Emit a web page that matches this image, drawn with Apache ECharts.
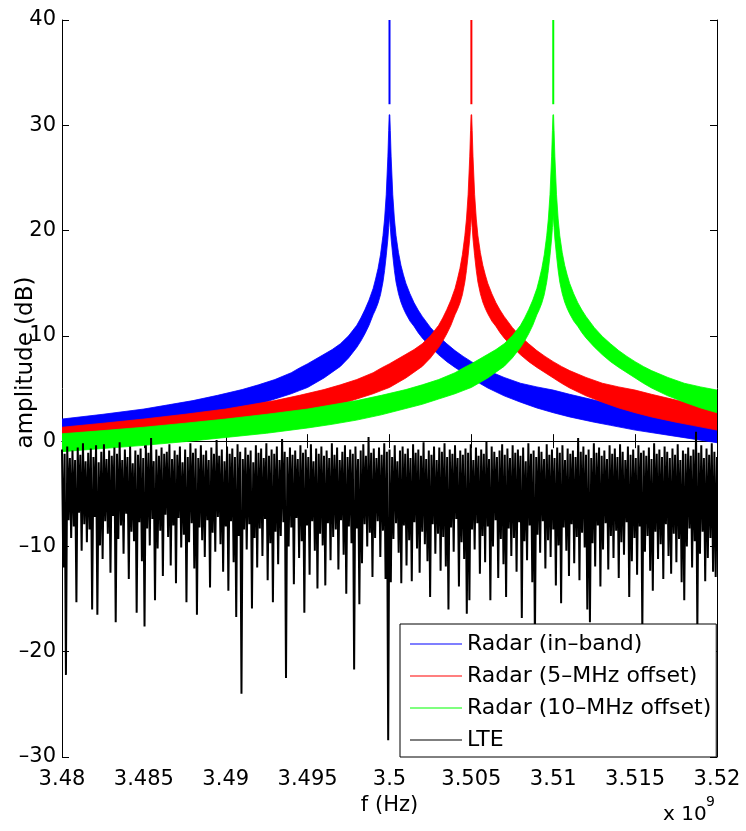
<!DOCTYPE html>
<html>
<head>
<meta charset="utf-8">
<script src="https://cdn.jsdelivr.net/npm/echarts@6/dist/echarts.min.js"></script>
<style>
html,body{margin:0;padding:0;background:#fff;}
#chart{width:746px;height:831px;}
</style>
</head>
<body>
<div id="chart"></div>
<script>
// ---- data ----
const xMinMHz = 3480, xMaxMHz = 3520, xStepMHz = 5;
const yMinDb = -30, yMaxDb = 40, yStepDb = 10;

const radarNames = ['Radar (in\u2013band)', 'Radar (5\u2013MHz offset)', 'Radar (10\u2013MHz offset)'];
const radarCentersMHz = [3500, 3505, 3510];
const radarColors = ['#0000ff', '#ff0000', '#00ff00'];

// envelope of each radar band, as offset from its centre frequency
const radarOffsetMHz = [-30,-27.5,-25,-22.5,-20,-17.5,-15,-13.5,-12,-10.5,-9,-8,-7,-6,-5.5,-5,-4.5,-4,-3.5,-3,-2.5,-2,-1.75,-1.5,-1.25,-1,-0.85,-0.7,-0.55,-0.4,-0.3,-0.2,-0.1,-0.05,-0.02,
  0,
  0.02,0.05,0.1,0.2,0.3,0.4,0.55,0.7,0.85,1,1.25,1.5,1.75,2,2.5,3,3.5,4,4.5,5,5.5,6,7,8,9,10,11,12.5,13.5,15,17.5,20];
const radarUpperDb = [0.7,1.0,1.32,1.7,2.1,2.55,3.05,3.45,3.85,4.35,4.9,5.35,5.85,6.5,6.95,7.35,7.8,8.25,8.7,9.25,10.0,11.0,11.7,12.5,13.4,14.5,15.4,16.4,17.7,19.5,21.1,23.4,27,29.5,31,
  31,
  31,29.5,27,23.4,21.1,19.5,17.9,16.7,15.8,15.0,14.0,13.15,12.45,11.85,10.8,9.95,9.25,8.6,8.05,7.55,7.1,6.7,6.05,5.5,5.15,4.85,4.45,3.9,3.55,3.05,2.25,1.55];
const radarLowerDb = [-1.0,-0.7,-0.4,-0.05,0.35,0.75,1.25,1.6,2.0,2.5,3.1,3.5,4.0,4.5,4.8,5.1,5.55,6.0,6.55,7.1,7.9,8.9,9.5,10.2,11.0,12.0,12.5,13.1,13.9,15.1,16.2,17.6,19.2,20.3,21,
  21.5,
  21,20.3,19.2,17.6,16.2,15.1,14.0,13.2,12.6,12.1,11.4,10.9,10.3,9.8,8.95,8.2,7.55,7.0,6.5,6.0,5.5,5.05,4.3,3.7,3.15,2.7,2.3,1.8,1.5,1.05,0.45,-0.15];
const radarSpikeDb = [32, 41];

const lteName = 'LTE';
const lteStartMHz = 3480, lteStepMHz = 0.08;
const lteDb = [
-0.8,-12,-1.2,-22.2,-0.5,-7.5,-1.6,-9.2,-0.9,-8.1,-1.8,-15.3,-0.6,-6.8,-1.3,-10.4,-0.2,-7.9,-1.9,-9.6,
-1.1,-8.4,-0.7,-16,-1.5,-7.2,-0.4,-16.5,-2.0,-9.9,-1.0,-11.2,-0.3,-7.6,-1.7,-8.8,-0.9,-12.5,-1.4,-7.1,
-0.6,-17.2,-1.2,-9.3,-0.1,-8.0,-1.8,-10.7,-0.8,-6.9,-1.5,-13.1,-0.5,-8.6,-2.1,-9.5,-0.9,-16.3,-1.3,-7.7,
-0.7,-11.4,-1.6,-17.6,-0.4,-8.3,-1.1,-9.9,0.3,-7.4,-1.9,-15.1,-0.8,-10.2,-1.4,-8.5,-0.6,-12.8,-1.2,-7.0,
-1.0,-9.1,-0.3,-11.8,-1.7,-8.0,-0.9,-13.5,-1.3,-7.3,-0.5,-10.1,-2.0,-8.9,-0.8,-15.3,-1.5,-9.6,-0.2,-7.8,
-1.1,-12.1,-0.7,-16.5,-1.6,-8.2,-0.4,-9.4,-1.3,-11.0,-0.9,-7.5,-1.8,-13.9,-0.6,-8.7,-1.2,-10.5,0.1,-7.2,
-1.4,-9.8,-0.8,-12.4,-1.9,-8.1,-0.5,-14.2,-1.2,-7.6,-0.7,-11.5,-1.5,-16.7,-0.3,-9.0,-1.0,-24.0,-1.7,-8.4,
-0.6,-10.3,-1.3,-7.9,-0.9,-15.9,-2.0,-9.2,-0.4,-12.0,-1.1,-8.3,-0.7,-10.9,-1.6,-7.4,-0.2,-13.2,-1.4,-9.7,
-0.8,-15.3,-1.2,-8.6,-0.5,-11.7,-1.8,-9.0,0.2,-7.7,-1.0,-22.5,-1.5,-10.0,-0.6,-8.2,-1.3,-13.6,-0.9,-7.3,
-1.7,-11.1,-0.4,-9.5,-1.1,-16.3,-0.8,-8.0,-1.5,-12.7,-0.3,-7.6,-1.9,-10.4,-0.7,-14.0,-1.2,-8.8,-0.5,-9.9,
-1.4,-13.7,-0.9,-7.8,-1.6,-11.3,-0.2,-9.1,-1.3,-8.4,-0.6,-12.2,-1.8,-7.5,-1.0,-10.8,-0.4,-14.5,-1.5,-8.1,
-0.8,-9.7,-1.2,-21.7,-0.5,-8.3,-1.7,-15.5,-0.9,-11.6,-0.3,-7.9,-1.4,-10.0,0.4,-8.7,-1.1,-12.9,-0.7,-9.2,
-1.6,-7.6,-0.6,-11.0,-1.3,-8.5,-0.2,-13.1,-1.0,-28.4,-0.8,-13.4,-1.5,-9.3,-0.4,-7.8,-1.9,-10.6,-0.9,-13.5,
-0.5,-8.0,-1.2,-11.8,-0.7,-9.4,-1.6,-13.3,-0.3,-7.7,-1.1,-10.2,-0.8,-12.5,-1.4,-8.6,-0.1,-9.8,-1.7,-11.4,
-0.9,-14.8,-1.3,-7.9,-0.5,-10.7,-1.8,-8.8,-0.6,-12.3,-1.0,-9.1,-0.2,-11.9,-1.5,-16.0,-0.8,-8.2,-1.2,-10.5,
-0.4,-7.4,-1.6,-13.8,-0.9,-9.6,-1.3,-11.2,-0.7,-16.4,-1.1,-15.1,-0.3,-8.4,-1.8,-10.3,-0.6,-7.8,-1.4,-12.6,
-0.8,-9.0,-1.2,-11.5,0.0,-8.1,-1.7,-15.1,-0.5,-10.0,-1.0,-7.5,-1.5,-13.0,-0.9,-9.3,-0.3,-11.7,-1.3,-14.8,
-0.7,-8.3,-1.6,-10.9,-0.4,-9.2,-1.1,-12.4,-0.8,-7.7,-1.4,-16.8,-0.6,-9.5,-1.9,-11.3,-0.2,-8.0,-1.2,-13.4,
-0.9,-19.0,-1.5,-8.9,-0.5,-10.6,-1.0,-7.6,-1.7,-12.1,-0.3,-9.4,-1.3,-11.0,-0.8,-8.4,-1.6,-13.7,-0.6,-9.9,
-1.1,-15.4,-0.4,-8.2,-1.8,-10.4,-0.7,-12.8,-1.2,-7.9,-0.9,-11.6,-1.5,-9.1,0.3,-13.2,-1.0,-8.7,-0.5,-10.1,
-1.3,-16.0,-0.8,-17.2,-1.6,-9.7,-0.2,-11.9,-1.1,-8.0,-0.6,-13.8,-1.4,-10.3,-0.9,-7.8,-1.7,-12.2,-0.4,-9.0,
-1.2,-11.1,-0.7,-8.5,-1.5,-13.0,-0.3,-9.6,-1.0,-10.8,-1.8,-7.7,-0.5,-14.8,-1.3,-11.4,-0.8,-9.2,-1.6,-12.7,
-0.4,-8.1,-1.1,-18.0,-0.9,-10.5,-1.4,-9.0,-0.6,-12.3,-1.7,-14.2,-0.2,-8.6,-1.2,-11.2,-0.8,-9.8,-1.5,-13.1,
-0.5,-7.9,-1.0,-10.9,-1.6,-12.6,-0.7,-8.8,-1.3,-11.5,-0.3,-9.3,-1.8,-13.4,-0.9,-15.1,-1.2,-10.0,-0.6,-8.3,
-1.4,-12.0,-0.8,-9.5,0.9,-18.0,-1.1,-10.7,-0.4,-8.6,-1.6,-13.3,-0.7,-11.1,-1.3,-9.2,-0.2,-12.4,-1.0,-12.9,
-1.5
];

// ---- chart ----
const FONT = 'DejaVu Sans';
const chart = echarts.init(document.getElementById('chart'), null, {renderer: 'canvas'});

function fmtX(v) { return String(+(v / 1000).toFixed(3)); }
function fmtY(v) { return v < 0 ? '\u2013' + Math.abs(v) : String(v); }

function radarRender(k) {
  return function (params, api) {
    const c = radarCentersMHz[k];
    const top = radarOffsetMHz.map((d, i) => api.coord([c + d, radarUpperDb[i]]));
    const bot = radarOffsetMHz.map((d, i) => api.coord([c + d, radarLowerDb[i]])).reverse();
    const p0 = api.coord([c, radarSpikeDb[0]]);
    const p1 = api.coord([c, radarSpikeDb[1]]);
    return {
      type: 'group',
      children: [
        {type: 'polygon', shape: {points: top.concat(bot)},
         style: {fill: radarColors[k], stroke: radarColors[k], lineWidth: 0.8}},
        {type: 'line', shape: {x1: p0[0], y1: p0[1], x2: p1[0], y2: p1[1]},
         style: {stroke: radarColors[k], lineWidth: 2}}
      ]
    };
  };
}

const series = radarNames.map((name, k) => ({
  name: name,
  type: 'custom',
  clip: true,
  renderItem: radarRender(k),
  data: [[radarCentersMHz[k], 0]],
  itemStyle: {color: radarColors[k]},
  silent: true
}));
series.push({
  name: lteName,
  type: 'line',
  data: lteDb.map((v, i) => [lteStartMHz + i * lteStepMHz, v]),
  showSymbol: false,
  symbol: 'none',
  clip: true,
  sampling: null,
  lineStyle: {color: '#000', width: 2},
  itemStyle: {color: '#000'},
  silent: true
});

const axisLineStyle = {show: true, lineStyle: {color: '#000', width: 1}};
const tickStyle = {show: true, inside: true, length: 7, lineStyle: {color: '#000', width: 1}};

chart.setOption({
  animation: false,
  backgroundColor: '#fff',
  grid: {left: 62, right: 29, top: 20, bottom: 74, containLabel: false, outerBoundsMode: 'none'},
  xAxis: [
    {type: 'value', min: xMinMHz, max: xMaxMHz, interval: xStepMHz, position: 'bottom',
     axisLine: axisLineStyle, axisTick: tickStyle, splitLine: {show: false},
     axisLabel: {formatter: fmtX, color: '#000', fontFamily: FONT, fontSize: 21, margin: 12},
     name: 'f (Hz)', nameLocation: 'middle', nameGap: 38, nameMoveOverlap: false,
     nameTextStyle: {color: '#000', fontFamily: FONT, fontSize: 21}},
    {type: 'value', min: xMinMHz, max: xMaxMHz, interval: xStepMHz, position: 'top',
     axisLine: axisLineStyle, axisTick: tickStyle, splitLine: {show: false},
     axisLabel: {show: false}}
  ],
  yAxis: [
    {type: 'value', min: yMinDb, max: yMaxDb, interval: yStepDb, position: 'left',
     axisLine: axisLineStyle, axisTick: tickStyle, splitLine: {show: false},
     axisLabel: {formatter: fmtY, color: '#000', fontFamily: FONT, fontSize: 21, margin: 6},
     name: 'amplitude (dB)', nameLocation: 'middle', nameRotate: 90, nameGap: 24, nameMoveOverlap: false,
     nameTextStyle: {color: '#000', fontFamily: FONT, fontSize: 23, padding: [0, 0, 0, 52]}},
    {type: 'value', min: yMinDb, max: yMaxDb, interval: yStepDb, position: 'right',
     axisLine: axisLineStyle, axisTick: tickStyle, splitLine: {show: false},
     axisLabel: {show: false}}
  ],
  legend: {
    orient: 'vertical', left: 400, top: 624,
    backgroundColor: '#fff', borderColor: '#000', borderWidth: 1, borderRadius: 0,
    padding: [9, 5, 6, 10], itemGap: 10, itemWidth: 52, itemHeight: 1,
    selectedMode: false,
    textStyle: {color: '#000', fontFamily: FONT, fontSize: 22, lineHeight: 22},
    data: radarNames.map((n, k) => ({name: n, icon: 'rect', itemStyle: {color: radarColors[k]}}))
      .concat([{name: lteName, icon: 'rect', itemStyle: {color: '#000'}}])
  },
  graphic: [
    {type: 'text', left: 663, top: 805, style: {text: 'x 10', fill: '#000', font: '20px "DejaVu Sans"'}},
    {type: 'text', left: 706, top: 795, style: {text: '9', fill: '#000', font: '14px "DejaVu Sans"'}}
  ],
  series: series
});
</script>
</body>
</html>
